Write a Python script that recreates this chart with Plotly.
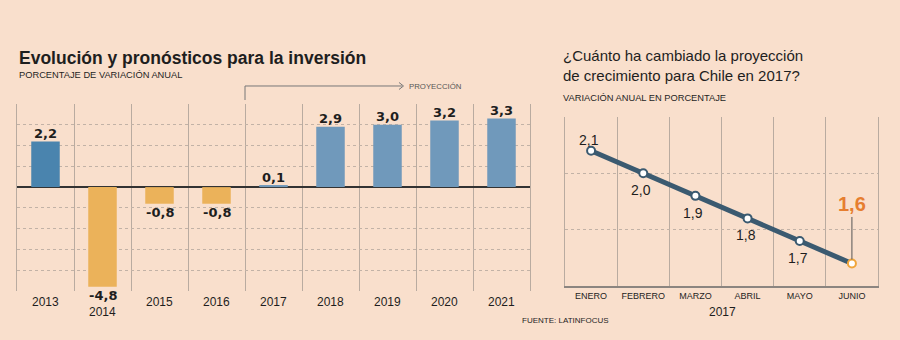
import plotly.graph_objects as go

# ---------------- data ----------------
years = ["2013", "2014", "2015", "2016", "2017", "2018", "2019", "2020", "2021"]
inversion = [2.2, -4.8, -0.8, -0.8, 0.1, 2.9, 3.0, 3.2, 3.3]
inversion_labels = ["2,2", "-4,8", "-0,8", "-0,8", "0,1", "2,9", "3,0", "3,2", "3,3"]
is_projection = [False, False, False, False, True, True, True, True, True]

months = ["ENERO", "FEBRERO", "MARZO", "ABRIL", "MAYO", "JUNIO"]
proyeccion = [2.1, 2.0, 1.9, 1.8, 1.7, 1.6]
proyeccion_labels = ["2,1", "2,0", "1,9", "1,8", "1,7", "1,6"]

# ---------------- style ----------------
BG = "#F9DFCC"
SANS = "Liberation Sans, Arial, sans-serif"
BOLD = "DejaVu Sans, Verdana, sans-serif"
DARK = "#1E1E1E"
VGRID = "#B9ABA0"
HGRID = "#C2B2A6"
C_ACT = "#4A84AE"
C_PROJ = "#7099BB"
C_NEG = "#EBB25A"
LINE_C = "#3B5A70"
ORANGE = "#E67E30"


def px(x):
    return x / 900.0


def py(y):
    return 1 - y / 340.0


bar_colors = []
for v, p in zip(inversion, is_projection):
    if v < 0:
        bar_colors.append(C_NEG)
    elif p:
        bar_colors.append(C_PROJ)
    else:
        bar_colors.append(C_ACT)

fig = go.Figure()

fig.add_trace(go.Bar(
    x=years, y=inversion, marker=dict(color=bar_colors, line=dict(width=0)),
    width=0.5, xaxis="x", yaxis="y", hoverinfo="skip", showlegend=False,
))

line_colors = [LINE_C] * (len(months) - 1) + ["#F0A53A"]
fig.add_trace(go.Scatter(
    x=months, y=proyeccion, mode="lines+markers",
    line=dict(color=LINE_C, width=5),
    marker=dict(size=8, color="white", line=dict(color=line_colors, width=2)),
    xaxis="x2", yaxis="y2", hoverinfo="skip", showlegend=False,
))

annotations = []

# value labels left (x given as category index)
for i, (v, lab) in enumerate(zip(inversion, inversion_labels)):
    annotations.append(dict(
        x=i, y=v, xref="x", yref="y", text="<b>%s</b>" % lab, showarrow=False,
        yanchor="middle", yshift=8 if v >= 0 else -9,
        font=dict(family=BOLD, size=13, color=DARK)))

# year labels left
for i, (yr, v) in enumerate(zip(years, inversion)):
    low = v == min(inversion)
    annotations.append(dict(
        x=i, y=-5, xref="x", yref="y", text=yr, showarrow=False,
        yanchor="middle", yshift=-21 if low else -11,
        font=dict(family=SANS, size=12, color=DARK)))

# value labels right
for i, (v, lab) in enumerate(zip(proyeccion, proyeccion_labels)):
    if i == len(months) - 1:
        annotations.append(dict(
            x=i, y=v, xref="x2", yref="y2", text="<b>%s</b>" % lab,
            showarrow=True, arrowhead=0, arrowwidth=1, arrowcolor="#555555",
            ax=0, ay=-59, standoff=4,
            font=dict(family=SANS, size=20, color=ORANGE)))
    elif i == 0:
        annotations.append(dict(
            x=i, y=v, xref="x2", yref="y2", text=lab, showarrow=False,
            yanchor="middle", yshift=11, xshift=-2,
            font=dict(family=SANS, size=14, color=DARK)))
    else:
        annotations.append(dict(
            x=i, y=v, xref="x2", yref="y2", text=lab, showarrow=False,
            yanchor="middle", yshift=-17, xshift=-2,
            font=dict(family=SANS, size=14, color=DARK)))

# titles
annotations += [
    dict(x=px(17), y=py(58), xref="paper", yref="paper", xanchor="left", yanchor="middle",
         text="<b>Evolución y pronósticos para la inversión</b>", showarrow=False,
         font=dict(family=SANS, size=17.5, color=DARK)),
    dict(x=px(17), y=py(75), xref="paper", yref="paper", xanchor="left", yanchor="middle",
         text="PORCENTAJE DE VARIACIÓN ANUAL", showarrow=False,
         font=dict(family=SANS, size=9.3, color=DARK)),
    dict(x=px(407), y=py(86), xref="paper", yref="paper", xanchor="left", yanchor="middle",
         text="PROYECCIÓN", showarrow=False,
         font=dict(family=SANS, size=7.8, color="#555555")),
    dict(x=px(561), y=py(56), xref="paper", yref="paper", xanchor="left", yanchor="middle",
         text="¿Cuánto ha cambiado la proyección", showarrow=False,
         font=dict(family=SANS, size=15, color=DARK)),
    dict(x=px(561), y=py(75), xref="paper", yref="paper", xanchor="left", yanchor="middle",
         text="de crecimiento para Chile en 2017?", showarrow=False,
         font=dict(family=SANS, size=15, color=DARK)),
    dict(x=px(561), y=py(98), xref="paper", yref="paper", xanchor="left", yanchor="middle",
         text="VARIACIÓN ANUAL EN PORCENTAJE", showarrow=False,
         font=dict(family=SANS, size=9.3, color=DARK)),
    dict(x=px(722), y=py(312), xref="paper", yref="paper", xanchor="center", yanchor="middle",
         text="2017", showarrow=False,
         font=dict(family=SANS, size=12, color=DARK)),
    dict(x=px(520), y=py(320), xref="paper", yref="paper", xanchor="left", yanchor="middle",
         text="FUENTE: LATINFOCUS", showarrow=False,
         font=dict(family=SANS, size=8, color=DARK)),
]

shapes = [
    # projection bracket
    dict(type="path", xref="x", yref="paper",
         path="M 3.5,%f L 3.5,%f L %f,%f" % (py(100), py(86), 3.5 + (403 - 246) / 57.0, py(86)),
         line=dict(color="#777777", width=1)),
    dict(type="path", xref="paper", yref="paper",
         path="M %f,%f L %f,%f L %f,%f" % (px(399), py(82.5), px(403.5), py(86), px(399), py(89.5)),
         line=dict(color="#777777", width=1)),
]

fig.update_layout(
    width=900, height=340, margin=dict(l=0, r=0, t=0, b=0),
    paper_bgcolor=BG, plot_bgcolor=BG,
    bargap=0.5,
    xaxis=dict(domain=[px(17), px(530)], type="category", categoryarray=years,
               range=[-0.5, 8.5], tickson="boundaries", showgrid=True,
               gridcolor=VGRID, gridwidth=1, showticklabels=False, ticks="",
               showline=False, zeroline=False, fixedrange=True),
    yaxis=dict(domain=[py(291), py(104)], range=[-5, 4], dtick=1, tick0=0,
               showgrid=True, gridcolor=HGRID, griddash="dot", gridwidth=1,
               zeroline=True, zerolinecolor="#333333", zerolinewidth=1.5,
               showticklabels=False, ticks="", showline=True, mirror=True,
               linecolor=VGRID, linewidth=1, fixedrange=True),
    xaxis2=dict(domain=[px(565), px(878)], type="category", categoryarray=months,
                range=[-0.5, 5.5], tickson="boundaries", showgrid=True,
                gridcolor=VGRID, gridwidth=1, ticks="", showline=True,
                linecolor="#8C8580", linewidth=2, anchor="y2", tickangle=0,
                tickfont=dict(family=SANS, size=9, color=DARK), fixedrange=True),
    yaxis2=dict(domain=[py(286), py(117)], range=[1.5, 2.25], dtick=0.25, tick0=1.5,
                showgrid=True, gridcolor=HGRID, griddash="dot", gridwidth=1,
                zeroline=False, showticklabels=False, ticks="", showline=True,
                mirror=True, linecolor=VGRID, linewidth=1, anchor="x2", fixedrange=True),
    annotations=annotations, shapes=shapes,
)

fig.write_html("out.html")
